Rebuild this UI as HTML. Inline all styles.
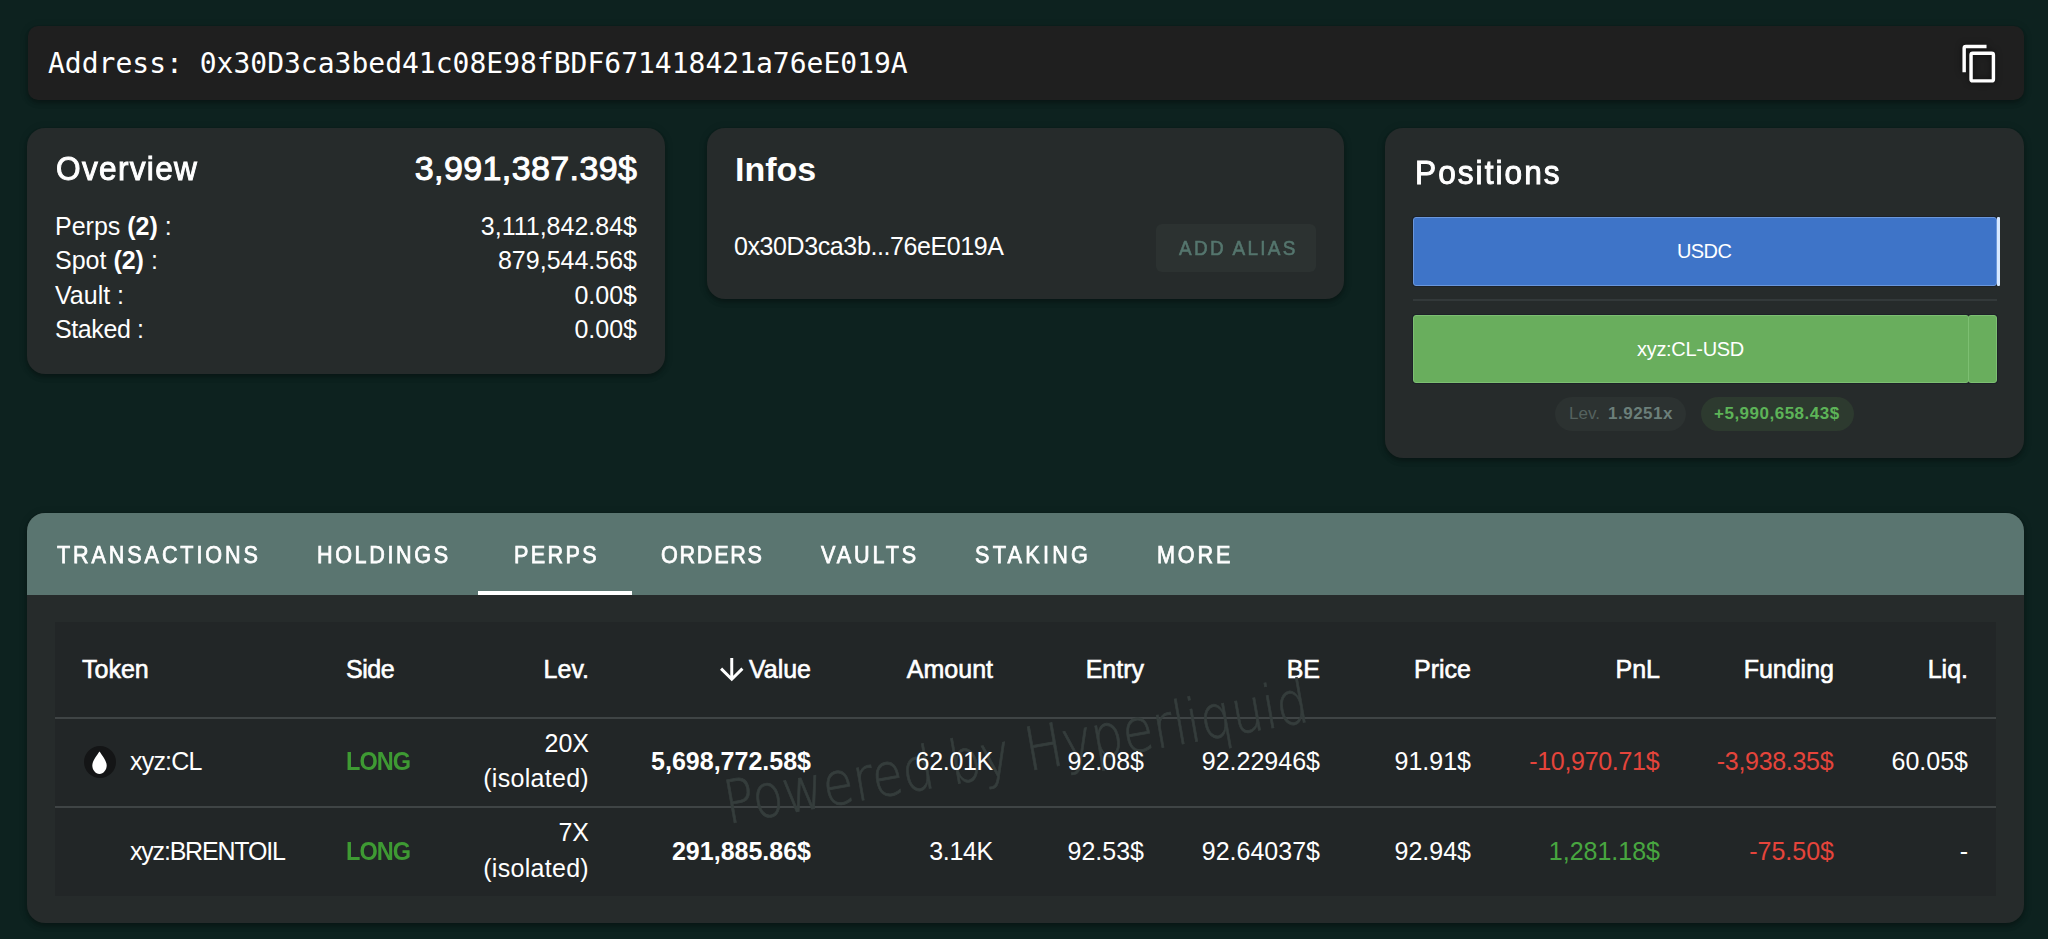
<!DOCTYPE html>
<html><head><meta charset="utf-8">
<style>
*{box-sizing:border-box;margin:0;padding:0}
html,body{width:2048px;height:939px;overflow:hidden}
body{background:#0d221f;font-family:"Liberation Sans",Arial,sans-serif;color:#fff;position:relative}
.a{position:absolute;white-space:nowrap;line-height:1}
.card{position:absolute;background:#262b2b;border-radius:18px;box-shadow:0 2px 4px -1px rgba(0,0,0,.2),0 4px 5px 0 rgba(0,0,0,.14),0 1px 10px 0 rgba(0,0,0,.12)}
.mono{font-family:"DejaVu Sans Mono",monospace}
.t{font-size:34px;-webkit-text-stroke:1px #fff}
.f25{font-size:25px}
.m{-webkit-text-stroke:0.6px currentColor}
.b{font-weight:bold}
.r{text-align:right}
.red{color:#e5443b}
.grn{color:#3e9a33}.grn2{color:#48a640}
.tab{font-size:24px;-webkit-text-stroke:0.75px #fff;top:543px;transform:scaleX(0.9);transform-origin:0 0;letter-spacing:3.2px}
.hl{position:absolute;left:55px;width:1941px;height:2px;background:#3f4445}
</style></head><body>

<!-- address bar -->
<div class="card" style="left:28px;top:26px;width:1996px;height:74px;background:#1f1f1f;border-radius:10px"></div>
<div class="a mono" style="left:48px;top:47.5px;font-size:28px;line-height:32px">Address: 0x30D3ca3bed41c08E98fBDF671418421a76eE019A</div>
<svg class="a" style="left:1958.7px;top:42.6px;filter:drop-shadow(0 0 3px rgba(0,0,0,.6))" width="41.3" height="41.3" viewBox="0 0 24 24"><path fill="#fff" d="M19,21H8V7H19M19,5H8A2,2 0 0,0 6,7V21A2,2 0 0,0 8,23H19A2,2 0 0,0 21,21V7A2,2 0 0,0 19,5M16,1H4A2,2 0 0,0 2,3V17H4V3H16V1Z"/></svg>

<!-- Overview -->
<div class="card" style="left:27px;top:128px;width:638px;height:246px"></div>
<div class="a t" style="left:55.5px;top:151px;letter-spacing:1.4px;transform:scaleX(0.93);transform-origin:0 0">Overview</div>
<div class="a t" style="right:1411px;top:151px;letter-spacing:0.4px;margin-right:-0.4px">3,991,387.39$</div>
<div class="a f25" style="left:55px;top:214px">Perps <b>(2)</b> :</div>
<div class="a f25" style="right:1411px;top:214px">3,111,842.84$</div>
<div class="a f25" style="left:55px;top:248px">Spot <b>(2)</b> :</div>
<div class="a f25" style="right:1411px;top:248px">879,544.56$</div>
<div class="a f25" style="left:55px;top:282.5px">Vault :</div>
<div class="a f25" style="right:1411px;top:282.5px">0.00$</div>
<div class="a f25" style="left:55px;top:316.5px;letter-spacing:-0.4px">Staked :</div>
<div class="a f25" style="right:1411px;top:316.5px">0.00$</div>

<!-- Infos -->
<div class="card" style="left:707px;top:128px;width:637px;height:171px"></div>
<div class="a b" style="left:735px;top:151.5px;font-size:34px">Infos</div>
<div class="a f25" style="left:734px;top:234px;letter-spacing:-0.4px">0x30D3ca3b...76eE019A</div>
<div class="a" style="left:1156px;top:223.5px;width:160px;height:48px;background:#2c3231;border-radius:6px"></div>
<div class="a m" style="left:1178.5px;top:236.5px;font-size:21px;letter-spacing:2.6px;color:#55766e;transform:scaleX(0.9);transform-origin:0 0">ADD ALIAS</div>

<!-- Positions -->
<div class="card" style="left:1385px;top:128px;width:639px;height:330px"></div>
<div class="a t" style="left:1414.5px;top:155px;letter-spacing:2.2px;transform:scaleX(0.93);transform-origin:0 0">Positions</div>
<div class="a" style="left:1413px;top:217px;width:584px;height:69px;background:#3e74c8;border:1.5px solid #6a97db;border-radius:3px;box-shadow:0 0 0 1px #1d2228"></div>
<div class="a" style="left:1997px;top:217px;width:3px;height:69px;background:#d6e8ff;border-radius:1px"></div>
<div class="a" style="left:1677px;top:241px;font-size:20px;letter-spacing:-0.6px">USDC</div>
<div class="a" style="left:1413px;top:298.5px;width:584px;height:2px;background:#33393a"></div>
<div class="a" style="left:1413px;top:315px;width:584px;height:68px;border-radius:3px;box-shadow:0 0 0 1px #1d2228"></div>
<div class="a" style="left:1413px;top:315px;width:556px;height:68px;background:#69ae5d;border:1.5px solid #7dbf72;border-radius:3px"></div>
<div class="a" style="left:1968px;top:315px;width:29px;height:68px;background:#69ae5d;border:1.5px solid #7dbf72;border-radius:3px"></div>
<div class="a" style="left:1637px;top:339px;font-size:20px;letter-spacing:-0.3px">xyz:CL-USD</div>
<div class="a" style="left:1555px;top:397px;width:131px;height:34px;background:#2c3231;border-radius:17px"></div>
<div class="a" style="left:1569px;top:405px;font-size:17px;color:#55625f">Lev.</div>
<div class="a b" style="left:1608px;top:405px;font-size:17px;letter-spacing:0.5px;color:#6b7f7a">1.9251x</div>
<div class="a" style="left:1701px;top:397px;width:153px;height:34px;background:#2d3a2f;border-radius:17px"></div>
<div class="a b" style="left:1714px;top:405px;font-size:17px;letter-spacing:0.5px;color:#5db458">+5,990,658.43$</div>

<!-- Tabs card -->
<div class="card" style="left:27px;top:513px;width:1997px;height:410px"></div>
<div class="a" style="left:27px;top:513px;width:1997px;height:82px;background:#5a7570;border-radius:18px 18px 0 0"></div>
<div class="a tab" style="left:57px">TRANSACTIONS</div>
<div class="a tab" style="left:317px;letter-spacing:2.9px">HOLDINGS</div>
<div class="a tab" style="left:514px;letter-spacing:2.65px">PERPS</div>
<div class="a tab" style="left:661px;letter-spacing:1.9px">ORDERS</div>
<div class="a tab" style="left:821px">VAULTS</div>
<div class="a tab" style="left:975px;letter-spacing:3.65px">STAKING</div>
<div class="a tab" style="left:1157px">MORE</div>
<div class="a" style="left:478px;top:591px;width:154px;height:4px;background:#fff"></div>

<!-- table -->
<div class="a" style="left:55px;top:622px;width:1941px;height:274px;background:#222627"></div>
<div class="a f25 m" style="left:82px;top:657px">Token</div>
<div class="a f25 m" style="left:346px;top:657px;letter-spacing:-0.5px">Side</div>
<div class="a f25 m" style="right:1459px;top:657px">Lev.</div>
<svg class="a" style="left:713.9px;top:651.5px" width="35.5" height="35.5" viewBox="0 0 24 24"><path fill="#fff" d="M11,4H13V16L18.5,10.5L19.92,11.92L12,19.84L4.08,11.92L5.5,10.5L11,16V4Z"/></svg>
<div class="a f25 m" style="right:1237px;top:657px">Value</div>
<div class="a f25 m" style="right:1055px;top:657px">Amount</div>
<div class="a f25 m" style="right:904px;top:657px">Entry</div>
<div class="a f25 m" style="right:728px;top:657px">BE</div>
<div class="a f25 m" style="right:577px;top:657px">Price</div>
<div class="a f25 m" style="right:388px;top:657px">PnL</div>
<div class="a f25 m" style="right:214px;top:657px">Funding</div>
<div class="a f25 m" style="right:80px;top:657px">Liq.</div>
<div class="hl" style="top:716.5px"></div>
<div class="hl" style="top:805.5px"></div>

<!-- watermark -->
<svg class="a" style="left:0;top:0" width="2048" height="939"><text x="728" y="824" transform="rotate(-10 728 824)" font-family="DejaVu Sans" font-weight="200" font-size="60" textLength="592" lengthAdjust="spacingAndGlyphs" fill="#353d3c" stroke="#353d3c" stroke-width="0.7">Powered by Hyperliquid</text></svg>

<!-- row 1 -->
<svg class="a" style="left:83.5px;top:745.5px" width="32" height="32" viewBox="0 0 32 32"><circle cx="16" cy="16" r="16" fill="#141516"/><path d="M15.5 5.5C13.5 8.5 8.3 14.6 8.3 19.6C8.3 24 11.5 28 15.5 28C19.5 28 22.7 24 22.7 19.6C22.7 14.6 17.5 8.5 15.5 5.5Z" fill="#fff"/></svg>
<div class="a f25" style="left:130px;top:749px;letter-spacing:-0.8px">xyz:CL</div>
<div class="a f25 b grn" style="left:346px;top:749px;letter-spacing:-1px;transform:scaleX(0.94);transform-origin:0 0">LONG</div>
<div class="a f25" style="right:1459px;top:730.5px">20X</div>
<div class="a f25" style="right:1459px;top:766px;letter-spacing:0.3px">(isolated)</div>
<div class="a f25 b" style="right:1237px;top:749px">5,698,772.58$</div>
<div class="a f25" style="right:1055px;top:749px;letter-spacing:-0.3px">62.01K</div>
<div class="a f25" style="right:904px;top:749px">92.08$</div>
<div class="a f25" style="right:728px;top:749px">92.22946$</div>
<div class="a f25" style="right:577px;top:749px">91.91$</div>
<div class="a f25 red" style="right:388.7px;top:749px;letter-spacing:-0.3px">-10,970.71$</div>
<div class="a f25 red" style="right:214.7px;top:749px;letter-spacing:-0.3px">-3,938.35$</div>
<div class="a f25" style="right:80px;top:749px">60.05$</div>

<!-- row 2 -->
<div class="a f25" style="left:130px;top:838.5px;letter-spacing:-1.2px">xyz:BRENTOIL</div>
<div class="a f25 b grn" style="left:346px;top:838.5px;letter-spacing:-1px;transform:scaleX(0.94);transform-origin:0 0">LONG</div>
<div class="a f25" style="right:1459px;top:820px">7X</div>
<div class="a f25" style="right:1459px;top:855.5px;letter-spacing:0.3px">(isolated)</div>
<div class="a f25 b" style="right:1237px;top:838.5px">291,885.86$</div>
<div class="a f25" style="right:1055px;top:838.5px;letter-spacing:-0.3px">3.14K</div>
<div class="a f25" style="right:904px;top:838.5px">92.53$</div>
<div class="a f25" style="right:728px;top:838.5px">92.64037$</div>
<div class="a f25" style="right:577px;top:838.5px">92.94$</div>
<div class="a f25 grn2" style="right:388px;top:838.5px">1,281.18$</div>
<div class="a f25 red" style="right:214px;top:838.5px">-75.50$</div>
<div class="a f25" style="right:80px;top:838.5px">-</div>

</body></html>
